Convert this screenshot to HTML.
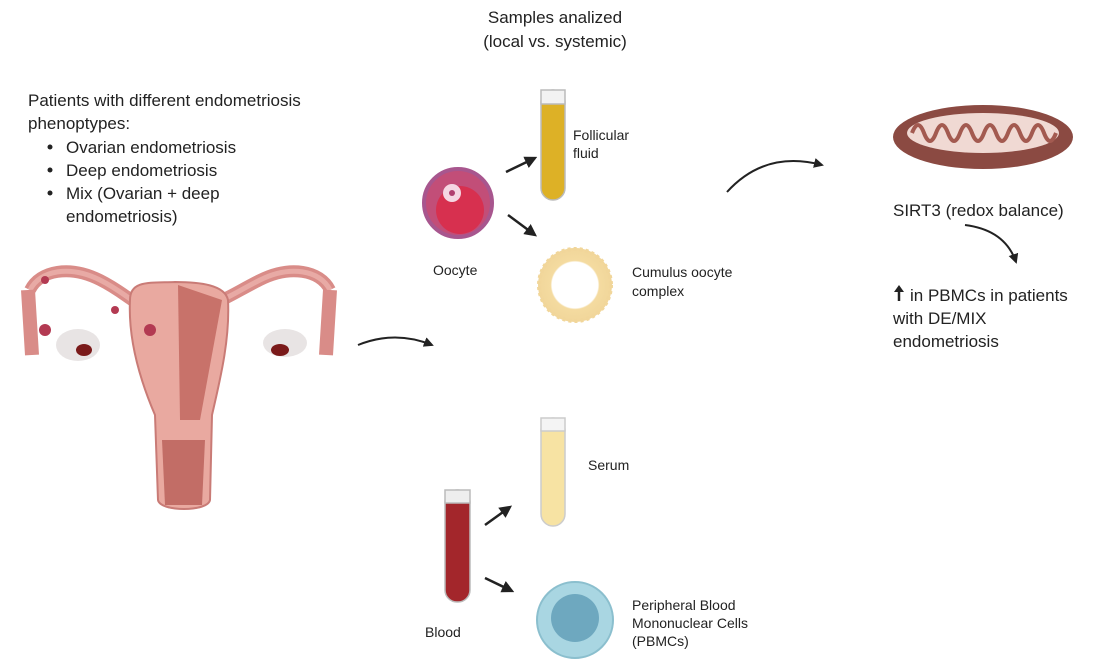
<!DOCTYPE html>
<html><head><meta charset="utf-8"><style>
body{margin:0;background:#fff;}
svg text{font-family:"Liberation Sans",sans-serif;fill:#222;}
</style></head><body>
<svg width="1109" height="665" viewBox="0 0 1109 665" xmlns="http://www.w3.org/2000/svg">
<defs>
<marker id="ah" viewBox="0 0 10 10" refX="8" refY="5" markerWidth="5" markerHeight="5" orient="auto"><path d="M0,0L10,5L0,10z" fill="#222"/></marker>
<radialGradient id="coc"><stop offset="0.62" stop-color="#fff"/><stop offset="0.66" stop-color="#f4dba0"/><stop offset="1" stop-color="#f1d69a"/></radialGradient>
</defs>
<g font-size="17">
<text x="555" y="23" text-anchor="middle">Samples analized</text>
<text x="555" y="47" text-anchor="middle">(local vs. systemic)</text>
<text x="28" y="106">Patients with different endometriosis</text>
<text x="28" y="129">phenoptypes:</text>
<circle cx="50" cy="147" r="2.5" fill="#222"/><text x="66" y="153">Ovarian endometriosis</text>
<circle cx="50" cy="170" r="2.5" fill="#222"/><text x="66" y="176">Deep endometriosis</text>
<circle cx="50" cy="193" r="2.5" fill="#222"/><text x="66" y="199">Mix (Ovarian + deep</text>
<text x="66" y="222">endometriosis)</text>
<text x="893" y="216">SIRT3 (redox balance)</text>
<text x="910" y="301">in PBMCs in patients</text>
<text x="893" y="324">with DE/MIX</text>
<text x="893" y="347">endometriosis</text>
</g>
<path d="M899,301 L899,290" stroke="#222" stroke-width="2.5"/><path d="M894,292 L899,285 L904,292z" fill="#222"/>
<!-- uterus -->
<g>
<path d="M30,290 C40,270 70,265 100,280 C120,290 130,300 140,305" fill="none" stroke="#d98c88" stroke-width="12"/>
<path d="M330,290 C320,270 290,265 260,280 C240,290 225,300 210,305" fill="none" stroke="#d98c88" stroke-width="12"/>
<path d="M30,290 C40,270 70,265 100,280 C120,290 130,300 140,305" fill="none" stroke="#e8aaa5" stroke-width="5"/>
<path d="M330,290 C320,270 290,265 260,280 C240,290 225,300 210,305" fill="none" stroke="#e8aaa5" stroke-width="5"/>
<path d="M28,290 L32,355 M330,290 L326,355" stroke="#d98c88" stroke-width="14"/>
<ellipse cx="78" cy="345" rx="22" ry="16" fill="#e8e4e4"/><ellipse cx="84" cy="350" rx="8" ry="6" fill="#7a1a1a"/>
<ellipse cx="285" cy="343" rx="22" ry="14" fill="#e8e4e4"/><ellipse cx="280" cy="350" rx="9" ry="6" fill="#7a1a1a"/>
<path d="M130,300 C130,280 150,283 175,282 C200,282 225,285 228,300 C230,340 220,380 212,415 L210,500 C208,512 160,512 158,500 L155,415 C140,380 128,340 130,300z" fill="#e9a9a0" stroke="#c97b76" stroke-width="2"/>
<path d="M178,285 L222,300 L200,420 L180,420z" fill="#c8726a"/>
<path d="M162,440 L205,440 L202,505 L165,505z" fill="#c26d66"/>
<circle cx="150" cy="330" r="6" fill="#b33a52"/><circle cx="45" cy="330" r="6" fill="#b33a52"/>
<circle cx="115" cy="310" r="4" fill="#b33a52"/><circle cx="45" cy="280" r="4" fill="#b33a52"/>
</g>
<path d="M358,345 Q395,330 432,345" fill="none" stroke="#222" stroke-width="2" marker-end="url(#ah)"/>
<!-- follicular tube -->
<rect x="541" y="90" width="24" height="110" rx="12" fill="#ddb126" stroke="#bbb" stroke-width="1.5"/>
<rect x="541" y="90" width="24" height="14" fill="#f2f2f2" stroke="#bbb" stroke-width="1.5"/>
<text x="573" y="140" font-size="14">Follicular</text><text x="573" y="158" font-size="14">fluid</text>
<!-- oocyte -->
<circle cx="458" cy="203" r="34" fill="#c24e78" stroke="#a8568e" stroke-width="4"/>
<circle cx="460" cy="210" r="24" fill="#d7304f"/>
<circle cx="452" cy="193" r="9" fill="#f5d7e3"/><circle cx="452" cy="193" r="3" fill="#b04070"/>
<text x="433" y="275" font-size="14">Oocyte</text>
<line x1="506" y1="172" x2="535" y2="158" stroke="#222" stroke-width="2.5" marker-end="url(#ah)"/>
<line x1="508" y1="215" x2="535" y2="235" stroke="#222" stroke-width="2.5" marker-end="url(#ah)"/>
<circle cx="575" cy="285" r="37" fill="url(#coc)"/>
<circle cx="575" cy="285" r="36" fill="none" stroke="#f1d69a" stroke-width="4" stroke-dasharray="3 3"/>
<text x="632" y="277" font-size="14">Cumulus oocyte</text><text x="632" y="296" font-size="14">complex</text>
<path d="M727,192 Q765,150 822,165" fill="none" stroke="#222" stroke-width="2" marker-end="url(#ah)"/>
<!-- mitochondrion -->
<ellipse cx="983" cy="137" rx="90" ry="32" fill="#8b4a42"/>
<ellipse cx="983" cy="133" rx="76" ry="20" fill="#f0d9d3"/>
<path d="M912,133 q6,-16 12,0 q6,16 12,0 q6,-16 12,0 q6,16 12,0 q6,-16 12,0 q6,16 12,0 q6,-16 12,0 q6,16 12,0 q6,-16 12,0 q6,16 12,0 q6,-16 12,0 q6,16 12,0" fill="none" stroke="#a35a50" stroke-width="4"/>
<path d="M965,225 Q1005,230 1016,262" fill="none" stroke="#222" stroke-width="2" marker-end="url(#ah)"/>
<!-- serum -->
<rect x="541" y="418" width="24" height="108" rx="12" fill="#f7e3a3" stroke="#ccc" stroke-width="1.5"/>
<rect x="541" y="418" width="24" height="13" fill="#f4f4f4" stroke="#ccc" stroke-width="1.5"/>
<text x="588" y="470" font-size="14">Serum</text>
<!-- blood -->
<rect x="445" y="490" width="25" height="112" rx="12" fill="#a3262b" stroke="#bbb" stroke-width="1.5"/>
<rect x="445" y="490" width="25" height="13" fill="#eee" stroke="#bbb" stroke-width="1.5"/>
<text x="425" y="637" font-size="14">Blood</text>
<line x1="485" y1="525" x2="510" y2="507" stroke="#222" stroke-width="2.5" marker-end="url(#ah)"/>
<line x1="485" y1="578" x2="512" y2="591" stroke="#222" stroke-width="2.5" marker-end="url(#ah)"/>
<circle cx="575" cy="620" r="38" fill="#a9d6e2" stroke="#8bbfce" stroke-width="2"/>
<circle cx="575" cy="618" r="24" fill="#6ea8bf"/>
<text x="632" y="610" font-size="14">Peripheral Blood</text>
<text x="632" y="628" font-size="14">Mononuclear Cells</text>
<text x="632" y="646" font-size="14">(PBMCs)</text>
</svg>
</body></html>
